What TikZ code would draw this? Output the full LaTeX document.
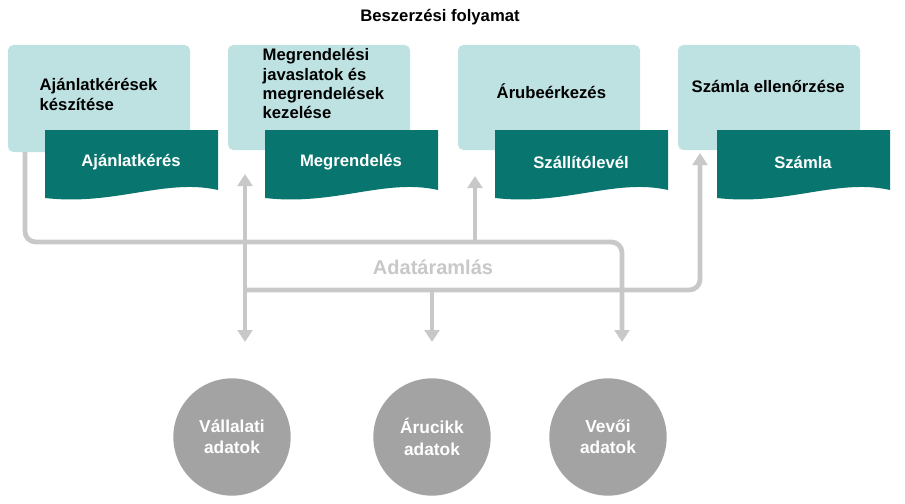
\documentclass[tikz,border=0pt]{standalone}
\usepackage{fontspec}
\setmainfont{Liberation Sans}
\usetikzlibrary{positioning,calc,arrows.meta}
\definecolor{boxlight}{HTML}{BEE1E1}
\definecolor{docdark}{HTML}{08756F}
\definecolor{flowgray}{HTML}{C8C8C8}
\definecolor{circgray}{HTML}{A3A3A3}
\tikzset{
  stepbox/.style={fill=boxlight,rounded corners=4pt},
  boxtext/.style={font=\bfseries\fontsize{12.5}{14.5}\selectfont,align=left,anchor=north west},
  doctext/.style={font=\bfseries\fontsize{12.5}{14.5}\selectfont,text=white},
  datacirc/.style={circle,fill=circgray,minimum size=88pt,inner sep=0pt,
    font=\bfseries\fontsize{13}{16}\selectfont,text=white,align=center},
  flow/.style={draw=flowgray,line width=3.6pt},
  flowarrow/.style={flow,-{Triangle[length=9pt,width=11pt]}}
}
% document shape with wavy bottom
\newcommand{\docshape}[3]{%
  \fill[docdark] (#1,130) -- (#1+173,130) -- (#1+173,190)
    .. controls (#1+120,178) and (#1+70,206) .. (#1,198) -- cycle;
  \node[doctext] (#2) at (#1+86,162) {#3};}
\begin{document}
\begin{tikzpicture}[x=0.75pt,y=-0.75pt]
  \useasboundingbox (0,0) rectangle (905,503);

  \node[font=\bfseries\fontsize{12.5}{14.5}\selectfont] (title) at (440,17) {Beszerzési folyamat};

  % process steps
  \fill[stepbox] (8,45) rectangle (190,152);
  \fill[stepbox] (228,45) rectangle (410,150);
  \fill[stepbox] (458,45) rectangle (640,150);
  \fill[stepbox] (678,45) rectangle (860,150);
  \node[boxtext] (s1) at (35,74) {Ajánlatkérések\\készítése};
  \node[boxtext] (s2) at (258,44) {Megrendelési\\javaslatok és\\megrendelések\\kezelése};
  \node[boxtext] (s3) at (492,79) {Árubeérkezés};
  \node[boxtext] (s4) at (687,76) {Számla ellenőrzése};

  % documents
  \docshape{45}{d1}{Ajánlatkérés}
  \docshape{265}{d2}{Megrendelés}
  \docshape{495}{d3}{Szállítólevél}
  \docshape{717}{d4}{Számla}

  % master data
  \node[datacirc] (c1) at (232,437) {Vállalati\\adatok};
  \node[datacirc] (c2) at (432,437) {Árucikk\\adatok};
  \node[datacirc] (c3) at (608,437) {Vevői\\adatok};

  % data flow
  \coordinate (a0) at (25,152);
  \coordinate (a1) at (25,242);
  \coordinate (a2) at (622,242);
  \coordinate (a3) at (475,242);
  \coordinate (b0) at (245,290);
  \coordinate (b1) at (700,290);
  \coordinate (b2) at (432,290);
  \draw[flowarrow,rounded corners=8pt] (a0) -- (a1) -- (a2) -- (622,342);
  \draw[flowarrow] (a3) -- (475,176);
  \draw[flowarrow,rounded corners=8pt] (b0) -- (b1) -- (700,153);
  \draw[flowarrow] (b0) -- (245,174);
  \draw[flowarrow] (b0) -- (245,342);
  \draw[flowarrow] (b2) -- (432,342);
  \node[font=\bfseries\fontsize{15}{18}\selectfont,text=flowgray,fill=white,inner sep=1pt] (flowlabel) at (433,267) {Adatáramlás};
\end{tikzpicture}
\end{document}
